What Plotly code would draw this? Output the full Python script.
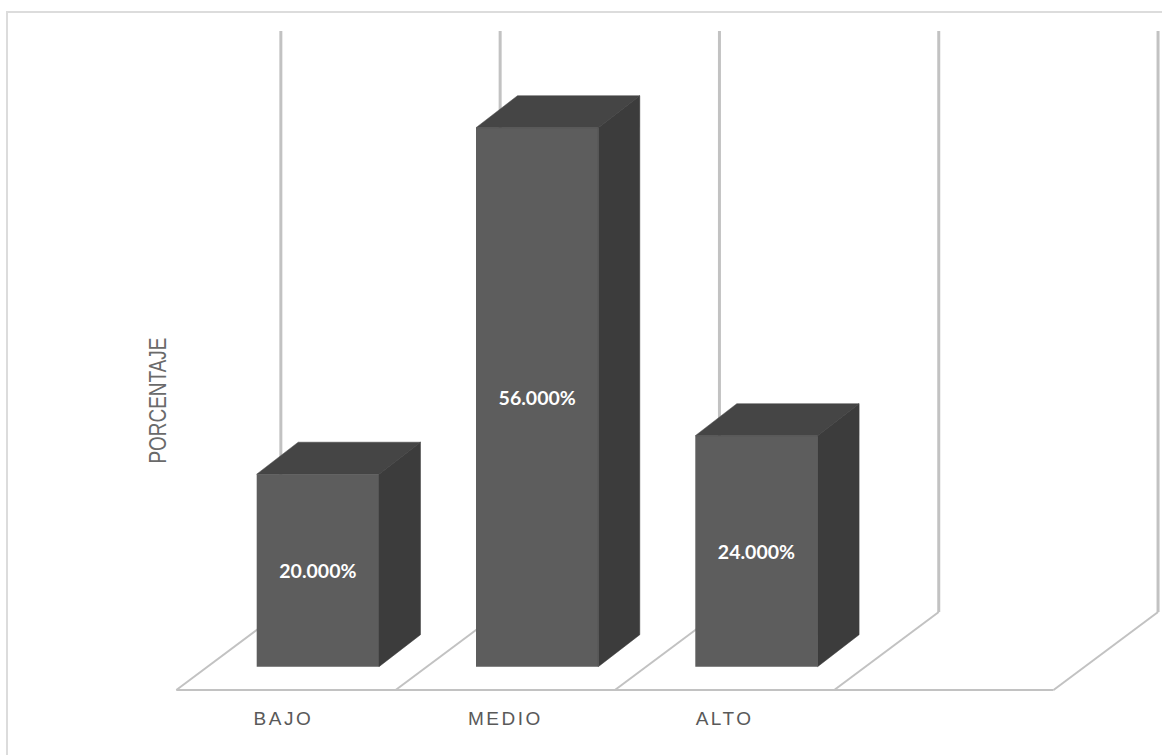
import plotly.graph_objects as go

# Survey result: share of responses per level
categories = ["BAJO", "MEDIO", "ALTO"]
percentages = [20.0, 56.0, 24.0]
value_labels = ["20.000%", "56.000%", "24.000%"]
axis_title = "PORCENTAJE"

FRONT = "#5d5d5d"
TOP = "#454545"
SIDE = "#3c3c3c"
WALL = "#c2c2c2"
FRAME = "#dcdcdc"

# Pixel layout of the plot area inside the 1162x755 page
L, R, T, B = 170, 2, 0, 60
W, H = 1162, 755
CELL = 219.3          # pixels per category
UNIT = 9.625          # pixels per percentage point
X0_PX = 286.0         # pixel of the first category on the floor's front edge
Y0_PX = 666.7         # pixel of the zero level of the bars

x_range = [(L - X0_PX) / CELL, (W - R - X0_PX) / CELL]
y_range = [(Y0_PX - (H - B)) / UNIT, (Y0_PX - T) / UNIT]

# Oblique projection: offsets in axis units
BAR_WIDTH = 122.3 / CELL
BAR_OFFSET = -29.3 / CELL
BAR_DX, BAR_DY = 41.5 / CELL, 32.0 / UNIT
FLOOR_DX, FLOOR_DY = 104.5 / CELL, 78.0 / UNIT
FLOOR_Y = (Y0_PX - 690) / UNIT
WALL_TOP = (Y0_PX - 31) / UNIT

fig = go.Figure()

# Front faces
fig.add_bar(
    x=list(range(len(categories))),
    y=percentages,
    width=BAR_WIDTH,
    offset=BAR_OFFSET,
    marker=dict(color=FRONT, line_width=0),
    text=value_labels,
    textposition="inside",
    insidetextanchor="middle",
    textangle=0,
    textfont=dict(family="Lato", size=19.5, color="white", weight=700),
    hoverinfo="skip",
)

# Top and side faces, projected from the same values
for i, v in enumerate(percentages):
    left = i + BAR_OFFSET
    right = left + BAR_WIDTH
    fig.add_scatter(
        x=[left, right, right + BAR_DX, left + BAR_DX, left],
        y=[v, v, v + BAR_DY, v + BAR_DY, v],
        mode="lines", line=dict(color=TOP, width=0.5), fill="toself", fillcolor=TOP, hoverinfo="skip",
    )
    fig.add_scatter(
        x=[right, right + BAR_DX, right + BAR_DX, right, right],
        y=[0, BAR_DY, v + BAR_DY, v, 0],
        mode="lines", line=dict(color=SIDE, width=0.5), fill="toself", fillcolor=SIDE, hoverinfo="skip",
    )

# Floor and walls sit behind the bars
shapes = []
n_cells = len(categories) + 1
for k in range(n_cells + 1):
    fx = k - 0.5
    shapes.append(dict(type="line", x0=fx, x1=fx + FLOOR_DX, y0=FLOOR_Y, y1=FLOOR_Y + FLOOR_DY,
                       line=dict(color=WALL, width=2), layer="below"))
    shapes.append(dict(type="line", x0=fx + FLOOR_DX, x1=fx + FLOOR_DX,
                       y0=FLOOR_Y + FLOOR_DY, y1=WALL_TOP,
                       line=dict(color=WALL, width=3), layer="below"))
shapes.append(dict(type="line", x0=-0.5, x1=n_cells - 0.5, y0=FLOOR_Y, y1=FLOOR_Y,
                   line=dict(color=WALL, width=2), layer="below"))

# Outer chart frame, open past the right and bottom page edges
plot_w, plot_h = W - L - R, H - T - B
def px(x): return (x - L) / plot_w
def py(y): return (H - B - y) / plot_h
shapes.append(dict(type="rect", xref="paper", yref="paper",
                   x0=px(7), x1=px(1175), y0=py(775), y1=py(12),
                   line=dict(color=FRAME, width=2), layer="below"))

# Small label nudges along the axis
tick_shift = [-0.012, 0.0, 0.0]

fig.update_layout(
    width=W, height=H,
    margin=dict(l=L, r=R, t=T, b=B),
    paper_bgcolor="white", plot_bgcolor="rgba(0,0,0,0)",
    showlegend=False,
    shapes=shapes,
    annotations=[dict(
        text=axis_title, textangle=-90, showarrow=False,
        xref="paper", yref="paper", x=px(158), y=py(401),
        xanchor="center", yanchor="middle",
        font=dict(family="Liberation Sans", size=23, color="#6a6a6a"),
    )],
    xaxis=dict(
        range=x_range, tickmode="array",
        tickvals=[i + s for i, s in enumerate(tick_shift)], ticktext=categories,
        showgrid=False, zeroline=False, showline=False,
        ticks="outside", ticklen=6, tickcolor="rgba(0,0,0,0)",
        tickfont=dict(family="Liberation Sans", size=19, color="#595959"),
    ),
    yaxis=dict(
        range=y_range, showgrid=False, zeroline=False, showline=False,
        showticklabels=False, ticks="",
    ),
)

# Letter spacing of the category labels, condensed lettering of the axis title
fig.write_html("out.html", post_script=(
    "document.querySelectorAll('.xtick text').forEach(function(t){t.style.letterSpacing='2.5px';});"
    "document.querySelectorAll('.annotation-text').forEach(function(t){"
    "t.setAttribute('textLength','126');t.setAttribute('lengthAdjust','spacingAndGlyphs');});"
))
